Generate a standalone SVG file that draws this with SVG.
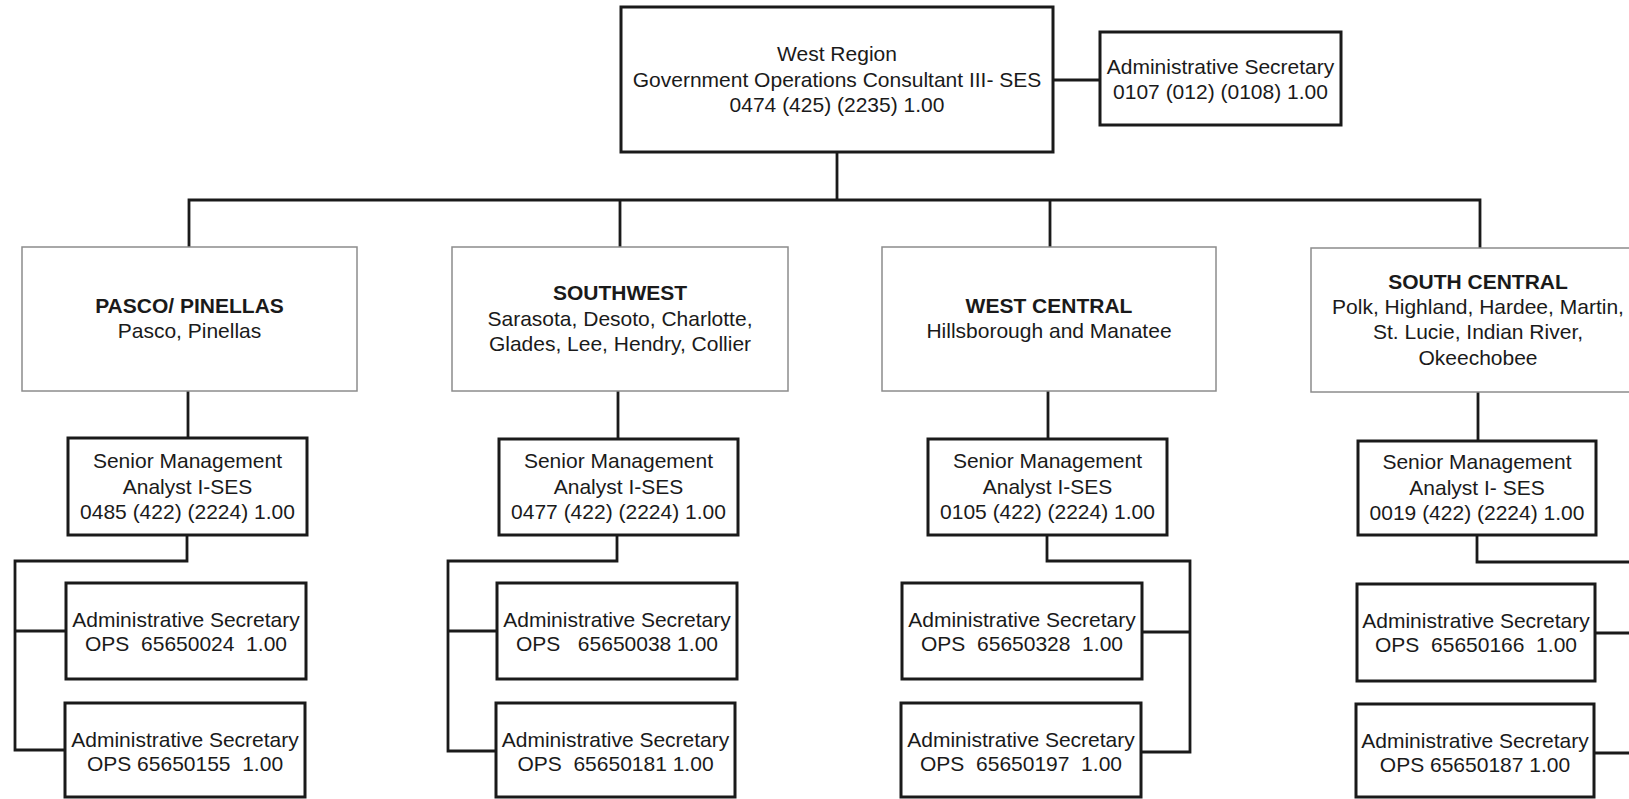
<svg xmlns="http://www.w3.org/2000/svg" width="1629" height="799" viewBox="0 0 1629 799">
  <style>
    .box { fill: #fff; stroke: #1a1a1a; stroke-width: 3; }
    .region { fill: #fff; stroke: #8c8c8c; stroke-width: 1.5; }
    .wire { fill: none; stroke: #1a1a1a; stroke-width: 2.8; stroke-linejoin: miter; }
    text { font-family: "Liberation Sans", Arial, sans-serif; font-size: 21px; fill: #1a1a1a; text-anchor: middle; white-space: pre; }
    .b { font-weight: bold; }
  </style>
  <rect width="1629" height="799" fill="#fff"/>

  <!-- connectors -->
  <g id="connectors">
    <path class="wire" d="M837 152 V200"/>
    <path class="wire" d="M1053 80 H1100"/>
    <path class="wire" d="M189 247 V200 H1480 V248"/>
    <path class="wire" d="M620 200 V247"/>
    <path class="wire" d="M1050 200 V247"/>
    <path class="wire" d="M188 391 V438"/>
    <path class="wire" d="M618 391 V439"/>
    <path class="wire" d="M1048 391 V439"/>
    <path class="wire" d="M1478 392 V441"/>
    <!-- Pasco / Pinellas staff -->
    <path class="wire" d="M187 535 V561 H15 V750 H65"/>
    <path class="wire" d="M15 631 H66"/>
    <!-- Southwest staff -->
    <path class="wire" d="M617 535 V561 H448 V751 H496"/>
    <path class="wire" d="M448 631 H497"/>
    <!-- West Central staff -->
    <path class="wire" d="M1047 535 V561 H1190 V752 H1141"/>
    <path class="wire" d="M1190 632 H1142"/>
    <!-- South Central staff -->
    <path class="wire" d="M1477 535 V562 H1634 V753 H1594"/>
    <path class="wire" d="M1634 633 H1595"/>
  </g>

  <g id="west-region">
    <rect class="box" x="621" y="7" width="432" height="145"/>
    <text x="837" y="61">West Region</text>
    <text x="837" y="87">Government Operations Consultant III- SES</text>
    <text x="837" y="112">0474 (425) (2235) 1.00</text>
  </g>

  <g id="region-admin-secretary">
    <rect class="box" x="1100" y="32" width="241" height="93"/>
    <text x="1220.5" y="74">Administrative Secretary</text>
    <text x="1220.5" y="99">0107 (012) (0108) 1.00</text>
  </g>

  <g id="pasco-pinellas">
    <rect class="region" x="22" y="247" width="335" height="144"/>
    <text class="b" x="189.5" y="312.7">PASCO/ PINELLAS</text>
    <text x="189.5" y="338.3">Pasco, Pinellas</text>
  </g>

  <g id="southwest">
    <rect class="region" x="452" y="247" width="336" height="144"/>
    <text class="b" x="620" y="300">SOUTHWEST</text>
    <text x="620" y="326">Sarasota, Desoto, Charlotte,</text>
    <text x="620" y="350.7">Glades, Lee, Hendry, Collier</text>
  </g>

  <g id="west-central">
    <rect class="region" x="882" y="247" width="334" height="144"/>
    <text class="b" x="1049" y="312.7">WEST CENTRAL</text>
    <text x="1049" y="338.3">Hillsborough and Manatee</text>
  </g>

  <g id="south-central">
    <rect class="region" x="1311" y="248" width="336" height="144"/>
    <text class="b" x="1478" y="289">SOUTH CENTRAL</text>
    <text x="1478" y="314.3">Polk, Highland, Hardee, Martin,</text>
    <text x="1478" y="339.3">St. Lucie, Indian River,</text>
    <text x="1478" y="365">Okeechobee</text>
  </g>

  <g id="pasco-analyst">
    <rect class="box" x="68" y="438" width="239" height="97"/>
    <text x="187.5" y="468.3">Senior Management</text>
    <text x="187.5" y="494">Analyst I-SES</text>
    <text x="187.5" y="519.3">0485 (422) (2224) 1.00</text>
  </g>

  <g id="southwest-analyst">
    <rect class="box" x="499" y="439" width="239" height="96"/>
    <text x="618.5" y="468.3">Senior Management</text>
    <text x="618.5" y="494">Analyst I-SES</text>
    <text x="618.5" y="519.3">0477 (422) (2224) 1.00</text>
  </g>

  <g id="west-central-analyst">
    <rect class="box" x="928" y="439" width="239" height="96"/>
    <text x="1047.5" y="468.3">Senior Management</text>
    <text x="1047.5" y="494">Analyst I-SES</text>
    <text x="1047.5" y="519.3">0105 (422) (2224) 1.00</text>
  </g>

  <g id="south-central-analyst">
    <rect class="box" x="1358" y="441" width="238" height="94"/>
    <text x="1477" y="469.3">Senior Management</text>
    <text x="1477" y="495">Analyst I- SES</text>
    <text x="1477" y="520">0019 (422) (2224) 1.00</text>
  </g>

  <g id="pasco-secretary-1">
    <rect class="box" x="66" y="583" width="240" height="96"/>
    <text x="186" y="627.3">Administrative Secretary</text>
    <text x="186" y="650.7">OPS  65650024  1.00</text>
  </g>
  <g id="pasco-secretary-2">
    <rect class="box" x="65" y="703" width="240" height="94"/>
    <text x="185" y="746.7">Administrative Secretary</text>
    <text x="185" y="770.7">OPS 65650155  1.00</text>
  </g>

  <g id="southwest-secretary-1">
    <rect class="box" x="497" y="583" width="240" height="96"/>
    <text x="617" y="627.3">Administrative Secretary</text>
    <text x="617" y="650.7">OPS   65650038 1.00</text>
  </g>
  <g id="southwest-secretary-2">
    <rect class="box" x="496" y="703" width="239" height="94"/>
    <text x="615.5" y="746.7">Administrative Secretary</text>
    <text x="615.5" y="770.7">OPS  65650181 1.00</text>
  </g>

  <g id="west-central-secretary-1">
    <rect class="box" x="902" y="583" width="240" height="96"/>
    <text x="1022" y="627.3">Administrative Secretary</text>
    <text x="1022" y="650.7">OPS  65650328  1.00</text>
  </g>
  <g id="west-central-secretary-2">
    <rect class="box" x="901" y="703" width="240" height="94"/>
    <text x="1021" y="746.7">Administrative Secretary</text>
    <text x="1021" y="770.7">OPS  65650197  1.00</text>
  </g>

  <g id="south-central-secretary-1">
    <rect class="box" x="1357" y="584" width="238" height="97"/>
    <text x="1476" y="628.3">Administrative Secretary</text>
    <text x="1476" y="651.7">OPS  65650166  1.00</text>
  </g>
  <g id="south-central-secretary-2">
    <rect class="box" x="1356" y="704" width="238" height="93"/>
    <text x="1475" y="747.7">Administrative Secretary</text>
    <text x="1475" y="771.7">OPS 65650187 1.00</text>
  </g>
</svg>
